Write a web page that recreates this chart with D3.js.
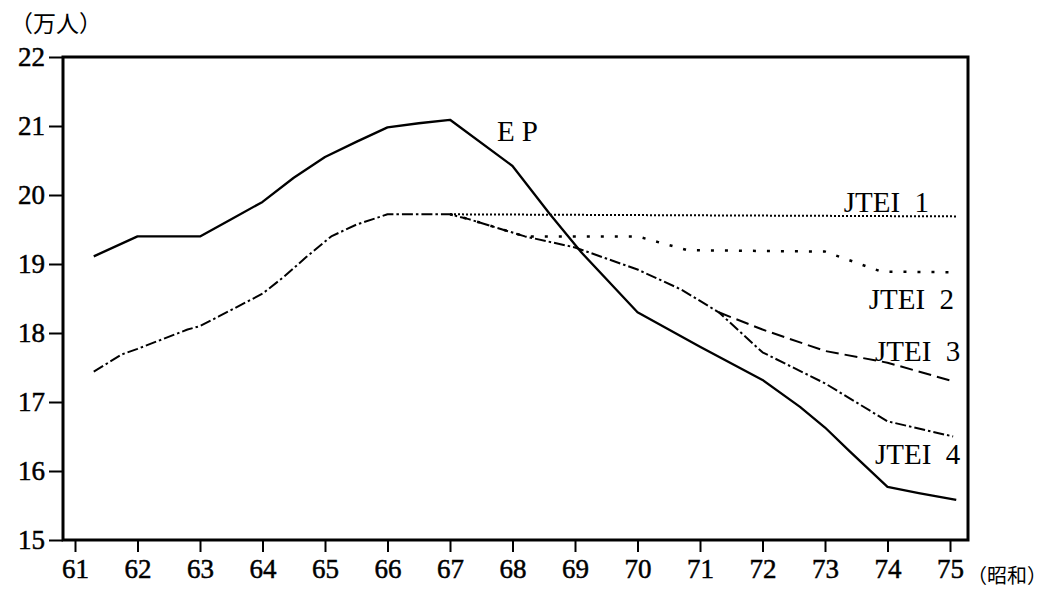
<!DOCTYPE html>
<html>
<head>
<meta charset="utf-8">
<script src="https://cdn.jsdelivr.net/npm/d3@7"></script>
<style>
  body { margin: 0; background: #fff; }
  svg text { fill: #000; }
</style>
</head>
<body>
<div id="chart"></div>
<script>
// values: [year (昭和), 万人]
const epPoints = [[61.3,19.11],[62,19.4],[63,19.4],[63.5,19.65],[64,19.9],[64.5,20.25],[65,20.55],[65.5,20.77],[66,20.98],[66.5,21.04],[67,21.09],[68,20.42],[68.6,19.72],[69.1,19.17],[70,18.3],[71,17.8],[72,17.32],[72.6,16.93],[73,16.63],[73.4,16.28],[74,15.77],[74.5,15.68],[75.1,15.58]]
const jtei4Points = [[61.3,17.44],[61.75,17.69],[62,17.77],[62.8,18.05],[63,18.1],[63.3,18.24],[64,18.57],[64.35,18.82],[64.7,19.1],[65.1,19.4],[65.5,19.57],[66,19.72],[67,19.72],[67.3,19.65],[68.2,19.4],[69,19.24],[70,18.92],[70.7,18.63],[71.3,18.3],[72,17.72],[73,17.27],[74,16.72],[75.05,16.5]]
const jtei3Points = [[71.3,18.3],[72,18.05],[73,17.74],[74,17.57],[75.05,17.3]]
const jtei2Points = [[67,19.72],[67.3,19.65],[68.2,19.4],[70,19.4],[70.8,19.2],[73,19.18],[73.9,18.89],[75,18.88]]
const jtei1Points = [[67,19.72],[75.1,19.69]]
const yTicks = [15, 16, 17, 18, 19, 20, 21, 22]
const xTicks = [61, 62, 63, 64, 65, 66, 67, 68, 69, 70, 71, 72, 73, 74, 75]

const width = 1051, height = 591
const frame = {left: 63, right: 968, top: 57, bottom: 540}
const serif = "'Liberation Serif', 'Times New Roman', serif"
const cjk = "'Noto Sans CJK JP', sans-serif"

const x = d3.scaleLinear().domain([61, 75]).range([75, 950])
const y = d3.scaleLinear().domain([15, 22]).range([frame.bottom, frame.top])

const svg = d3.select("#chart").append("svg")
  .attr("width", width)
  .attr("height", height)

// lines
const line = d3.line().x(d => x(d[0])).y(d => y(d[1]))

const series = [
  {pts: jtei1Points, dash: "2,2", w: 2},
  {pts: jtei2Points, dash: "3,11", w: 2.5},
  {pts: jtei3Points, dash: "13,6", w: 2},
  {pts: jtei4Points, dash: "11,3,2.5,3", w: 2},
  {pts: epPoints, dash: null, w: 2.3}
]

svg.append("g")
  .selectAll("path")
  .data(series)
  .join("path")
  .attr("fill", "none")
  .attr("stroke", "#000")
  .attr("stroke-width", d => d.w)
  .attr("stroke-dasharray", d => d.dash)
  .attr("stroke-linejoin", "round")
  .attr("d", d => line(d.pts))

// frame
svg.append("rect")
  .attr("x", frame.left).attr("y", frame.top)
  .attr("width", frame.right - frame.left).attr("height", frame.bottom - frame.top)
  .attr("fill", "none")
  .attr("stroke", "#000")
  .attr("stroke-width", 3)

// axes
const yAxis = svg.append("g")
  .attr("transform", `translate(${frame.left},0)`)
  .call(d3.axisLeft(y).tickValues(yTicks).tickFormat(d3.format("d")).tickSize(14).tickPadding(4))
  .attr("font-family", serif)
  .attr("font-size", 27)
yAxis.select(".domain").remove()
yAxis.selectAll("line").attr("stroke-width", 2)
yAxis.selectAll("text").attr("stroke", "#000").attr("stroke-width", 0.5)

const xAxis = svg.append("g")
  .attr("transform", `translate(0,${frame.bottom})`)
  .call(d3.axisBottom(x).tickValues(xTicks).tickFormat(d3.format("d")).tickSize(12).tickPadding(7))
  .attr("font-family", serif)
  .attr("font-size", 27)
xAxis.select(".domain").remove()
xAxis.selectAll("line").attr("stroke-width", 2)
xAxis.selectAll("text").attr("stroke", "#000").attr("stroke-width", 0.5)

// unit labels
svg.append("text")
  .attr("x", 10).attr("y", 32)
  .attr("font-size", 23)
  .attr("font-family", cjk)
  .text("（万人）")

svg.append("text")
  .attr("x", 967).attr("y", 583)
  .attr("font-size", 20)
  .attr("font-family", cjk)
  .text("（昭和）")

// series labels, anchored in data units
const labels = [
  {t: "E P", at: [67.75, 20.78]},
  {t: "JTEI  1", at: [73.3, 19.75]},
  {t: "JTEI  2", at: [73.7, 18.35]},
  {t: "JTEI  3", at: [73.8, 17.6]},
  {t: "JTEI  4", at: [73.8, 16.1]}
]

svg.append("g")
  .attr("font-family", serif)
  .attr("font-size", 29)
  .selectAll("text")
  .data(labels)
  .join("text")
  .attr("x", d => x(d.at[0]))
  .attr("y", d => y(d.at[1]))
  .style("white-space", "pre")
  .text(d => d.t)
</script>
</body>
</html>
